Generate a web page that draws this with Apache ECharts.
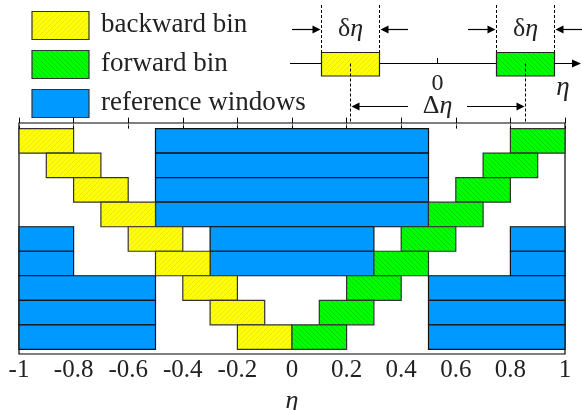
<!DOCTYPE html>
<html><head><meta charset="utf-8">
<script src="https://cdn.jsdelivr.net/npm/echarts@6/dist/echarts.min.js"></script>
<style>html,body{margin:0;padding:0;background:#fff}#c{width:582px;height:410px}</style>
</head><body><div id="c"></div>
<script>
// ---- data ----
const xTicks = [-1, -0.8, -0.6, -0.4, -0.2, 0, 0.2, 0.4, 0.6, 0.8, 1];
const rows = [0, 1, 2, 3, 4, 5, 6, 7, 8]; // row index from top
const backwardLo = [-1.0, -0.9, -0.8, -0.7, -0.6, -0.5, -0.4, -0.3, -0.2];
const backwardHi = [-0.8, -0.7, -0.6, -0.5, -0.4, -0.3, -0.2, -0.1, 0.0];
const forwardLo = [0.8, 0.7, 0.6, 0.5, 0.4, 0.3, 0.2, 0.1, 0.0];
const forwardHi = [1.0, 0.9, 0.8, 0.7, 0.6, 0.5, 0.4, 0.3, 0.2];
const refRow = [0, 1, 2, 3, 4, 4, 4, 5, 5, 5, 6, 6, 7, 7, 8, 8];
const refLo  = [-0.5, -0.5, -0.5, -0.5, -1.0, -0.3, 0.8, -1.0, -0.3, 0.8, -1.0, 0.5, -1.0, 0.5, -1.0, 0.5];
const refHi  = [0.5, 0.5, 0.5, 0.5, -0.8, 0.3, 1.0, -0.8, 0.3, 1.0, -0.5, 1.0, -0.5, 1.0, -0.5, 1.0];
const legendNames = ['backward bin', 'forward bin', 'reference windows'];

// ---- patterns ----
function hatch(bg, fg, dir) {
  const s = 5, c = document.createElement('canvas');
  c.width = s; c.height = s;
  const g = c.getContext('2d');
  g.fillStyle = bg; g.fillRect(0, 0, s, s);
  g.strokeStyle = fg; g.lineWidth = 0.8;
  g.beginPath();
  if (dir > 0) {
    g.moveTo(-1, s + 1); g.lineTo(s + 1, -1);
    g.moveTo(-1, 1); g.lineTo(1, -1);
    g.moveTo(s - 1, s + 1); g.lineTo(s + 1, s - 1);
  } else {
    g.moveTo(-1, -1); g.lineTo(s + 1, s + 1);
    g.moveTo(-1, s - 1); g.lineTo(1, s + 1);
    g.moveTo(s - 1, -1); g.lineTo(s + 1, 1);
  }
  g.stroke();
  return c;
}
const YEL = '#ffff00', GRN = '#00ff00', BLU = '#0099ff';
const yelPat = { image: hatch(YEL, '#e2e228', 1), repeat: 'repeat' };
const grnPat = { image: hatch(GRN, '#08cc08', -1), repeat: 'repeat' };

function rectRender(fill, stroke) {
  return function (params, api) {
    const lo = api.value(0), hi = api.value(1), r = api.value(2);
    const p1 = api.coord([lo, r]);
    const p2 = api.coord([hi, r + 1]);
    return {
      type: 'rect',
      shape: { x: p1[0], y: p1[1], width: p2[0] - p1[0], height: p2[1] - p1[1] },
      style: { fill: fill, stroke: stroke, lineWidth: 1.2 }
    };
  };
}
const refData = refRow.map((r, i) => [refLo[i], refHi[i], r]);
const bwData = rows.map((r, i) => [backwardLo[i], backwardHi[i], r]);
const fwData = rows.map((r, i) => [forwardLo[i], forwardHi[i], r]);

const FONT = 'Liberation Serif';
const chart = echarts.init(document.getElementById('c'));

// ---- decorations (legend + schematic) ----
function arrow(x1, y, x2) {
  const d = x2 > x1 ? 1 : -1;
  return [
    { type: 'line', shape: { x1: x1, y1: y, x2: x2 - d * 6, y2: y }, style: { stroke: '#000', lineWidth: 1.2 } },
    { type: 'polygon', shape: { points: [[x2, y], [x2 - d * 8, y - 4], [x2 - d * 8, y + 4]] }, style: { fill: '#000' } }
  ];
}
function dashed(x, y1, y2) {
  return { type: 'line', shape: { x1: x, y1: y1, x2: x, y2: y2 }, style: { stroke: '#000', lineWidth: 1, lineDash: [3, 2] } };
}
const txt = (x, y, text, size, extra) => ({ type: 'text', x: x, y: y, style: Object.assign({ text: text, fontFamily: FONT, fontSize: size, fill: '#222', verticalAlign: 'middle' }, extra || {}) });
const greek = (x, y, first) => ({
  type: 'text', x: x, y: y,
  style: {
    text: '{a|' + first + '}{b|η}', align: 'center', verticalAlign: 'middle',
    rich: { a: { fontFamily: FONT, fontSize: 26, fill: '#222' }, b: { fontFamily: FONT, fontSize: 26, fontStyle: 'italic', fill: '#222' } }
  }
});

const graphic = [
  // legend
  { type: 'rect', shape: { x: 32, y: 11.5, width: 57, height: 28 }, style: { fill: yelPat, stroke: '#333', lineWidth: 1.2 } },
  { type: 'rect', shape: { x: 32, y: 50.5, width: 57, height: 28 }, style: { fill: grnPat, stroke: '#333', lineWidth: 1.2 } },
  { type: 'rect', shape: { x: 32, y: 89.5, width: 57, height: 28 }, style: { fill: BLU, stroke: '#333', lineWidth: 1.2 } },
  txt(101, 25, legendNames[0], 27),
  txt(101, 64, legendNames[1], 27),
  txt(101, 103, legendNames[2], 27),
  // schematic axis
  { type: 'line', shape: { x1: 290, y1: 63.5, x2: 574, y2: 63.5 }, style: { stroke: '#000', lineWidth: 1.2 } },
  { type: 'polygon', shape: { points: [[581, 63.5], [572, 59.5], [572, 67.5]] }, style: { fill: '#000' } },
  { type: 'line', shape: { x1: 437.5, y1: 58, x2: 437.5, y2: 63.5 }, style: { stroke: '#000', lineWidth: 1 } },
  { type: 'rect', shape: { x: 321.5, y: 52.5, width: 58, height: 23.5 }, style: { fill: yelPat, stroke: '#222', lineWidth: 1.2 } },
  { type: 'rect', shape: { x: 496.5, y: 52.5, width: 58, height: 23.5 }, style: { fill: grnPat, stroke: '#222', lineWidth: 1.2 } },
  dashed(321.5, 5, 52), dashed(379.5, 5, 52), dashed(496.5, 5, 52), dashed(554.5, 5, 52),
  dashed(350.5, 63.5, 123), dashed(525.5, 63.5, 123),
  ...arrow(292, 29.5, 320.5), ...arrow(408, 29.5, 380.5),
  ...arrow(468, 29.5, 495.5), ...arrow(582, 29.5, 555.5),
  greek(350.5, 29, 'δ'), greek(525.5, 29, 'δ'),
  ...arrow(408, 106.5, 351.5), ...arrow(467, 106.5, 524.5),
  txt(437.5, 84, '0', 24, { align: 'center' }),
  txt(563, 88, 'η', 27, { align: 'center', fontStyle: 'italic' }),
  greek(437.5, 106, 'Δ')
];

chart.setOption({
  animation: false,
  textStyle: { fontFamily: FONT },
  grid: { left: 19, right: 17, top: 123, bottom: 56, outerBoundsMode: 'none', containLabel: false,
    show: true, borderColor: '#000', borderWidth: 1.2, backgroundColor: 'transparent' },
  xAxis: [{
    type: 'value', min: -1, max: 1, interval: 0.2, z: 10,
    axisLine: { show: false }, splitLine: { show: false },
    axisTick: { inside: true, length: 11, lineStyle: { color: '#000' } },
    axisLabel: { fontFamily: FONT, fontSize: 25, color: '#222', margin: 4,
      formatter: v => { const t = xTicks.find(k => Math.abs(k - v) < 1e-9); return t === undefined ? '' : String(t); } },
    name: 'η', nameLocation: 'middle', nameGap: 16,
    nameTextStyle: { fontFamily: FONT, fontSize: 26, fontStyle: 'italic', color: '#222' }
  }, {
    type: 'value', min: -1, max: 1, interval: 0.2, position: 'top', z: 10,
    axisLine: { show: false }, splitLine: { show: false }, axisLabel: { show: false },
    axisTick: { inside: true, length: 3, lineStyle: { color: '#666' } }
  }],
  yAxis: { type: 'value', min: -0.23, max: 9.19, inverse: true, show: false },
  series: [
    { type: 'custom', name: legendNames[2], renderItem: rectRender(BLU, '#111'), data: refData, encode: { x: [0, 1], y: 2 } },
    { type: 'custom', name: legendNames[0], renderItem: rectRender(yelPat, '#333'), data: bwData, encode: { x: [0, 1], y: 2 } },
    { type: 'custom', name: legendNames[1], renderItem: rectRender(grnPat, '#333'), data: fwData, encode: { x: [0, 1], y: 2 } }
  ],
  graphic: graphic
});
</script></body></html>
